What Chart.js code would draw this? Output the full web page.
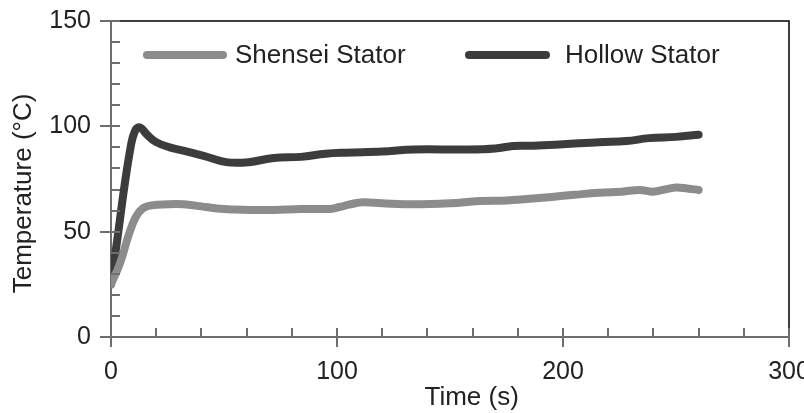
<!DOCTYPE html>
<html>
<head>
<meta charset="utf-8">
<script src="https://cdn.jsdelivr.net/npm/chart.js@4/dist/chart.umd.min.js"></script>
<style>
html,body{margin:0;padding:0;background:#fff;}
#wrap{width:804px;height:413px;position:relative;}
</style>
</head>
<body>
<div id="wrap"><canvas id="c" width="804" height="413"></canvas></div>
<script>
// ---- data ----
const seriesNames = ['Shensei Stator', 'Hollow Stator'];
const shenseiTime = [0, 4, 8, 11, 14, 18, 25, 32, 40, 47, 55, 62, 72, 84, 97, 101, 106, 111.5, 120, 134, 150, 163, 175, 184, 195, 205, 216, 226, 234, 240, 245, 250, 255, 260];
const shenseiTemp = [25, 35, 49, 57, 61, 62.5, 63, 63, 62, 61, 60.5, 60.3, 60.3, 60.8, 60.8, 61.7, 63, 64, 63.5, 63, 63.5, 64.5, 64.8, 65.5, 66.5, 67.5, 68.5, 69, 69.8, 69, 70, 71, 70.5, 69.8];
const hollowTime = [0, 3, 6, 9, 10.5, 12, 13.5, 16, 20, 26, 32, 41, 51, 61, 72, 84, 95, 104, 120, 134, 157, 170, 178, 187, 200, 216, 228, 238, 250, 260];
const hollowTemp = [25, 48, 72, 92, 97.5, 99.5, 99, 96, 92.5, 90, 88.5, 86, 83, 83, 85, 85.5, 87, 87.5, 88, 89, 89, 89.5, 90.7, 90.8, 91.5, 92.5, 93, 94.4, 95, 96];
const xMajorTicks = [0, 100, 200, 300];
const yMajorTicks = [0, 50, 100, 150];
const xMinorStep = 20;
const yMinorStep = 10;
const xTitle = 'Time (s)';
const yTitle = 'Temperature (°C)';

const toPts = (xs, ys) => xs.map((x, i) => ({x: x, y: ys[i]}));

const AXIS = '#6e6e6e';
const TEXT = '#222222';
const FONT = "'Liberation Sans', Arial, sans-serif";

const decor = {
  id: 'decor',
  afterDatasetsDraw(chart) {
    const ctx = chart.ctx;
    const xs = chart.scales.x, ys = chart.scales.y;
    const ca = chart.chartArea;
    ctx.save();
    // top & right frame
    ctx.strokeStyle = '#000';
    ctx.lineWidth = 1.5;
    ctx.beginPath();
    ctx.moveTo(ca.left + 9, ca.top);
    ctx.lineTo(ca.right, ca.top);
    ctx.lineTo(ca.right, ca.bottom - 9);
    ctx.stroke();
    // ticks
    ctx.strokeStyle = AXIS;
    ctx.lineWidth = 2;
    ctx.beginPath();
    for (let v = xs.min; v <= xs.max + 1e-9; v += xMinorStep) {
      const px = Math.round(xs.getPixelForValue(v));
      const major = xMajorTicks.includes(v);
      ctx.moveTo(px, ca.bottom - 9);
      ctx.lineTo(px, ca.bottom + (major ? 10 : 0));
    }
    for (let v = ys.min; v <= ys.max + 1e-9; v += yMinorStep) {
      const py = Math.round(ys.getPixelForValue(v));
      const major = yMajorTicks.includes(v);
      ctx.moveTo(ca.left - (major ? 11 : 0), py);
      ctx.lineTo(ca.left + 9, py);
    }
    ctx.stroke();
    // legend inside plot
    const legendY = ys.getPixelForValue(150) + 34;
    const items = [
      {ds: chart.data.datasets[0], x0: 147, x1: 223, tx: 235},
      {ds: chart.data.datasets[1], x0: 469, x1: 546, tx: 565}
    ];
    ctx.lineCap = 'round';
    ctx.font = '26px ' + FONT;
    ctx.textBaseline = 'middle';
    ctx.textAlign = 'left';
    items.forEach(it => {
      ctx.strokeStyle = it.ds.borderColor;
      ctx.lineWidth = it.ds.borderWidth;
      ctx.beginPath();
      ctx.moveTo(it.x0, legendY);
      ctx.lineTo(it.x1, legendY);
      ctx.stroke();
      ctx.fillStyle = TEXT;
      ctx.fillText(it.ds.label, it.tx, legendY + 1);
    });
    ctx.restore();
  }
};

new Chart(document.getElementById('c'), {
  type: 'line',
  data: {
    datasets: [
      {
        label: seriesNames[0],
        data: toPts(shenseiTime, shenseiTemp),
        borderColor: '#8c8c8c',
        borderWidth: 8,
        borderCapStyle: 'round',
        borderJoinStyle: 'round',
        pointRadius: 0,
        tension: 0.4,
        fill: false
      },
      {
        label: seriesNames[1],
        data: toPts(hollowTime, hollowTemp),
        borderColor: '#3c3c3c',
        borderWidth: 8,
        borderCapStyle: 'round',
        borderJoinStyle: 'round',
        pointRadius: 0,
        tension: 0.4,
        fill: false
      }
    ]
  },
  options: {
    responsive: false,
    animation: false,
    devicePixelRatio: 1,
    layout: {padding: {top: 21, right: 15, left: 0, bottom: 0}},
    plugins: {legend: {display: false}, tooltip: {enabled: false}},
    scales: {
      x: {
        type: 'linear',
        min: 0, max: 300,
        afterBuildTicks(s) { s.ticks = xMajorTicks.map(v => ({value: v})); },
        afterFit(s) { s.height = 76; s.paddingLeft = 0; s.paddingRight = 0; },
        grid: {display: false, drawTicks: false},
        border: {display: true, color: AXIS, width: 2},
        ticks: {padding: 20, color: TEXT, font: {family: FONT, size: 25}, maxRotation: 0, autoSkip: false},
        title: {display: true, text: '      ' + xTitle, color: TEXT, font: {family: FONT, size: 26}, padding: {top: 0, bottom: 0}}
      },
      y: {
        type: 'linear',
        min: 0, max: 150,
        afterBuildTicks(s) { s.ticks = yMajorTicks.map(v => ({value: v})); },
        afterFit(s) { s.width = 111; s.paddingTop = 0; s.paddingBottom = 0; },
        grid: {display: false, drawTicks: false},
        border: {display: true, color: AXIS, width: 2},
        ticks: {padding: 20, color: TEXT, font: {family: FONT, size: 25}, autoSkip: false},
        title: {display: true, text: yTitle + '    ', color: TEXT, font: {family: FONT, size: 26}, padding: {top: 8, bottom: 0}}
      }
    }
  },
  plugins: [decor]
});
</script>
</body>
</html>
